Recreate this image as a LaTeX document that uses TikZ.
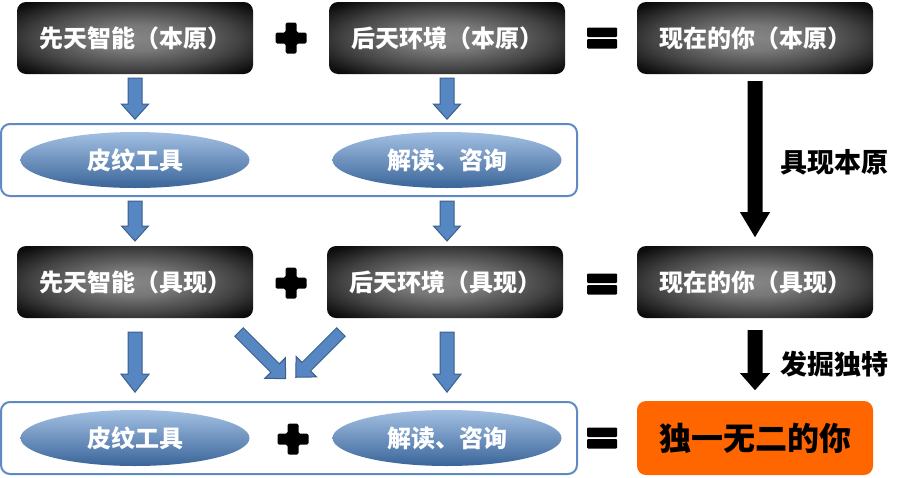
\documentclass[tikz,border=0pt]{standalone}
\usepackage{fontspec}
\newfontfamily\cjk{Noto Sans CJK SC}
\usetikzlibrary{calc,shapes.geometric}
\definecolor{arrowblue}{HTML}{5787C3}
\definecolor{arrowedge}{HTML}{3C5F8C}
\definecolor{framblue}{HTML}{5F8AC2}
\definecolor{elltop}{HTML}{A3C0E3}
\definecolor{ellbot}{HTML}{3A6599}
\definecolor{orangebox}{HTML}{FF6600}
\pgfdeclareradialshading{boxshade}{\pgfpoint{0bp}{0bp}}{%
  color(0bp)=(black!48); color(9bp)=(black!53); color(22bp)=(black!74);
  color(32bp)=(black!94); color(38bp)=(black); color(50bp)=(black)}
\newcommand{\blockarrow}[7]{%
  \begin{scope}[shift={#2},rotate=#3]
    \path[#1] (0,#5) -- ({#4-#7},#5) -- ({#4-#7},#6) -- (#4,0)
      -- ({#4-#7},-#6) -- ({#4-#7},-#5) -- (0,-#5) -- cycle;
  \end{scope}}
\newcommand{\plussign}[1]{%
  \fill[black,rounded corners=1.5pt] ($#1+(-5.5,-15.5)$) -- ($#1+(5.5,-15.5)$) -- ($#1+(5.5,-5.5)$)
    -- ($#1+(15.5,-5.5)$) -- ($#1+(15.5,5.5)$) -- ($#1+(5.5,5.5)$) -- ($#1+(5.5,15.5)$)
    -- ($#1+(-5.5,15.5)$) -- ($#1+(-5.5,5.5)$) -- ($#1+(-15.5,5.5)$) -- ($#1+(-15.5,-5.5)$)
    -- ($#1+(-5.5,-5.5)$) -- cycle;}
\newcommand{\equalsign}[1]{%
  \fill[black,rounded corners=1pt] ($#1+(-15,-10.5)$) rectangle ($#1+(15,-1)$);
  \fill[black,rounded corners=1pt] ($#1+(-15,1)$) rectangle ($#1+(15,10.5)$);}
\begin{document}
\begin{tikzpicture}[x=1pt,y=-1pt,
  darkbox/.style={rounded corners=9pt, shading=boxshade,
    minimum width=236pt, minimum height=72pt, text=white, inner sep=0pt,
    font=\cjk\bfseries\fontsize{24}{24}\selectfont},
  frame/.style={draw=framblue, line width=2pt, rounded corners=9pt, fill=white,
    minimum width=576pt, minimum height=72pt},
  ellip/.style={ellipse, top color=elltop, bottom color=ellbot, draw=none,
    minimum width=229pt, minimum height=56pt, text=white, inner sep=0pt,
    font=\cjk\bfseries\fontsize{24}{24}\selectfont},
  bluearrow/.style={fill=arrowblue, draw=arrowedge, line width=1pt, line join=miter},
  blackarrow/.style={fill=black},
  lbl/.style={font=\cjk\bfseries\fontsize{27}{27}\selectfont, text=black},
]
\useasboundingbox (0,0) rectangle (901,477);
% top row
\node[darkbox] (t1) at (135,38) {先天智能（本原）};
\node[darkbox] (t2) at (447,38) {后天环境（本原）};
\node[darkbox] (t3) at (755,38) {现在的你（本原）};
\coordinate (p1) at (291,38);
\coordinate (q1) at (602,38);
\plussign{(p1)}
\equalsign{(q1)}
% container 1
\node[frame] (c1) at (289,160) {};
\node[ellip] (e1) at (135,160) {皮纹工具};
\node[ellip] (e2) at (447,160) {解读、咨询};
% middle row
\node[darkbox] (m1) at (135,282) {先天智能（具现）};
\node[darkbox] (m2) at (445,282) {后天环境（具现）};
\node[darkbox] (m3) at (755,282) {现在的你（具现）};
\coordinate (p2) at (291,283);
\coordinate (q2) at (602,284);
\plussign{(p2)}
\equalsign{(q2)}
% bottom row
\node[frame] (c2) at (289,438) {};
\node[ellip] (e3) at (135,438) {皮纹工具};
\node[ellip] (e4) at (447,438) {解读、咨询};
\coordinate (p3) at (293,439);
\coordinate (q3) at (602,438);
\plussign{(p3)}
\equalsign{(q3)}
\node[rounded corners=9pt, fill=orangebox, minimum width=236pt, minimum height=74pt,
  font=\cjk\bfseries\fontsize{32}{32}\selectfont] (u) at (755,438) {独一无二的你};
% blue arrows
\blockarrow{bluearrow}{($(t1.south)+(0,4)$)}{-90}{41}{7}{13.5}{15}
\blockarrow{bluearrow}{($(t2.south)+(0,4)$)}{-90}{41}{7}{13.5}{15}
\blockarrow{bluearrow}{($(c1.south-|e1)+(0,4)$)}{-90}{40}{7}{13.5}{15}
\blockarrow{bluearrow}{($(c1.south-|e2)+(0,4)$)}{-90}{40}{7}{13.5}{15}
\blockarrow{bluearrow}{($(m1.south)+(0,14)$)}{-90}{60}{7}{14}{18}
\blockarrow{bluearrow}{($(m2.south)+(2,14)$)}{-90}{60}{7}{14}{18}
\coordinate (dl) at (239,332);
\coordinate (dr) at (341,332);
\blockarrow{bluearrow}{(dl)}{-45}{66}{6}{14.5}{15}
\blockarrow{bluearrow}{(dr)}{-135}{64}{6}{14.5}{15}
% black arrows
\blockarrow{blackarrow}{($(t3.south)+(0,7)$)}{-90}{156}{7.5}{15}{25}
\blockarrow{blackarrow}{($(m3.south)+(0,12)$)}{-90}{60}{7.5}{15}{17}
\node[lbl] (l1) at (834,162) {具现本原};
\node[lbl] (l2) at (834,364) {发掘独特};
\end{tikzpicture}
\end{document}
